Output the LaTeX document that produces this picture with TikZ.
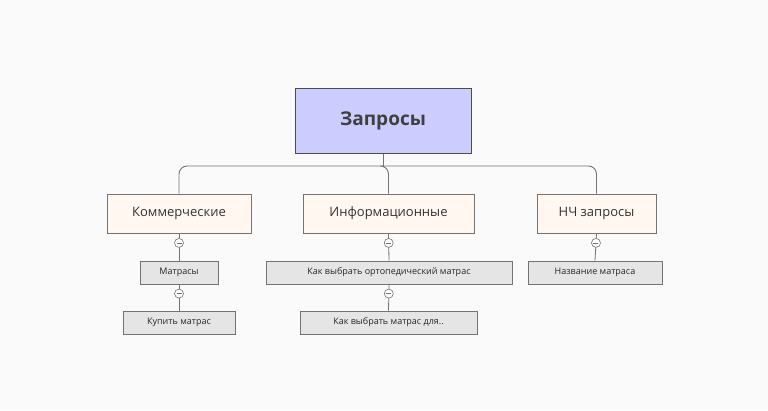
\documentclass[tikz,border=0pt]{standalone}
\usepackage{fontspec}
\setmainfont{Open Sans}
\usetikzlibrary{calc}
\begin{document}
\begin{tikzpicture}[x=1pt,y=-1pt,
 box/.style={draw=black!55,line width=0.8pt,minimum height=23pt,inner sep=0pt,font=\fontsize{9}{10}\selectfont,text=black!85},
 l1/.style={draw=black!55,line width=0.8pt,fill=orange!6!white,minimum height=39pt,inner sep=0pt,font=\fontsize{13}{14}\selectfont,text=black!80},
 ln/.style={draw=black!55,line width=0.9pt,rounded corners=8pt},
 mn/.style={circle,draw=black!55,fill=white,line width=0.6pt,minimum size=9pt,inner sep=0pt}]
\fill[black!2] (0,0) rectangle (768,410);
\useasboundingbox (0,0) rectangle (768,410);
\node[draw=black!70,line width=1pt,fill=blue!20!white,minimum width=176pt,minimum height=65pt,font=\bfseries\fontsize{19}{20}\selectfont,text=black!75] (root) at (383,120.5) {Запросы};
\node[l1,minimum width=144pt] (k) at (179,213.5) {Коммерческие};
\node[l1,minimum width=171pt] (i) at (388.5,213.5) {Информационные};
\node[l1,minimum width=119pt] (n) at (596.5,213.5) {НЧ запросы};
\node[box,fill=black!10,minimum width=78pt] (m) at (179,272.5) {Матрасы};
\node[box,fill=black!10,minimum width=112pt] (km) at (179,322.5) {Купить матрас};
\node[box,fill=black!10,minimum width=246pt] (o) at (389,272.5) {Как выбрать ортопедический матрас};
\node[box,fill=black!10,minimum width=177pt] (d) at (388.5,322.5) {Как выбрать матрас для..};
\node[box,fill=black!10,minimum width=134pt] (nm) at (595,272.5) {Название матраса};
\coordinate (j) at (383,166);
\draw[ln] (root.south) -- (j);
\draw[ln] (j) -| (k.north);
\draw[ln] (j) -| (i.north);
\draw[ln] (j) -| (n.north);
\foreach \a/\b in {k/m,m/km,i/o,o/d,n/nm}{
 \draw[black!55,line width=0.8pt] (\a.south) -- (\b.north);
 \node[mn] (c\a) at ($(\a.south)!0.35!(\b.north)$) {};
 \draw[black!55,line width=0.6pt] ([xshift=-2.5pt]c\a.center) -- ([xshift=2.5pt]c\a.center);
}
\end{tikzpicture}
\end{document}
